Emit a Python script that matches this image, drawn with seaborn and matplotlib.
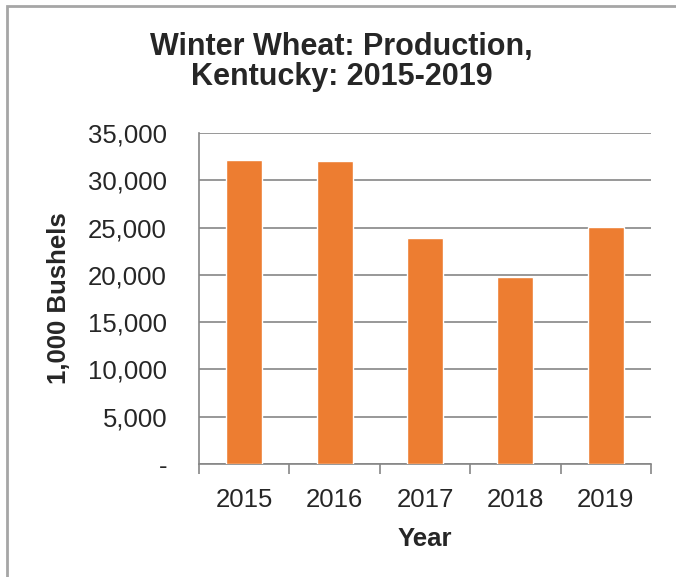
import numpy as np
import pandas as pd
import matplotlib
matplotlib.use("Agg")
import matplotlib.pyplot as plt
import seaborn as sns
from matplotlib.ticker import FuncFormatter, MultipleLocator
from matplotlib.patches import Rectangle

years = ["2015", "2016", "2017", "2018", "2019"]
production = [32100, 32000, 23900, 19800, 25100]

title = "Winter Wheat: Production,\nKentucky: 2015-2019"
x_label = "Year"
y_label = "1,000 Bushels"

sns.set_style("white")
plt.rcParams["font.family"] = ["Liberation Sans", "DejaVu Sans"]

df = pd.DataFrame({"year": years, "production": production})

fig = plt.figure(figsize=(6.76, 5.77), dpi=100)
ax = fig.add_axes([199 / 676, 1 - 464 / 577, (651 - 199) / 676, (464 - 133) / 577])

sns.barplot(data=df, x="year", y="production", color="#ED7D31",
            saturation=1, width=0.4, ax=ax, zorder=3)

ax.set_ylim(0, 35000)
ax.set_xlim(-0.5, len(years) - 0.5)
ax.yaxis.set_major_locator(MultipleLocator(5000))


def acct(v, pos):
    if v == 0:
        return "-"
    return f"{v:,.0f}"


ax.yaxis.set_major_formatter(FuncFormatter(acct))

grid_color = "#868686"
ax.grid(axis="y", color=grid_color, linewidth=1.2, zorder=0)
ax.set_axisbelow(True)
for side in ["top", "right"]:
    ax.spines[side].set_visible(False)
for side in ["left", "bottom"]:
    ax.spines[side].set_color(grid_color)
    ax.spines[side].set_linewidth(1.2)

# x ticks sit between categories, labels at centres
ax.set_xticks(np.arange(len(years) + 1) - 0.5, minor=True)
ax.tick_params(axis="x", which="minor", bottom=True, length=7, width=1.2,
               color=grid_color)
ax.tick_params(axis="x", which="major", length=0, pad=17, labelsize=18.5)
ax.tick_params(axis="y", which="major", length=0, pad=23, labelsize=18.5)

ax.set_xlabel(x_label, fontsize=18.5, fontweight="bold", labelpad=11)
ax.set_ylabel(y_label, fontsize=18.5, fontweight="bold", labelpad=12)

fig.text(0.505, 0.892, title, ha="center", va="center", fontsize=22,
         fontweight="bold", linespacing=1.0)

# outer chart border (cut off on the right and bottom)
fig.patches.append(Rectangle((7 / 676, -0.1), 1.2, 1 - 6 / 577 + 0.1,
                             transform=fig.transFigure, fill=False,
                             edgecolor="#A6A6A6", linewidth=2))

fig.savefig("out.png", dpi=100)
